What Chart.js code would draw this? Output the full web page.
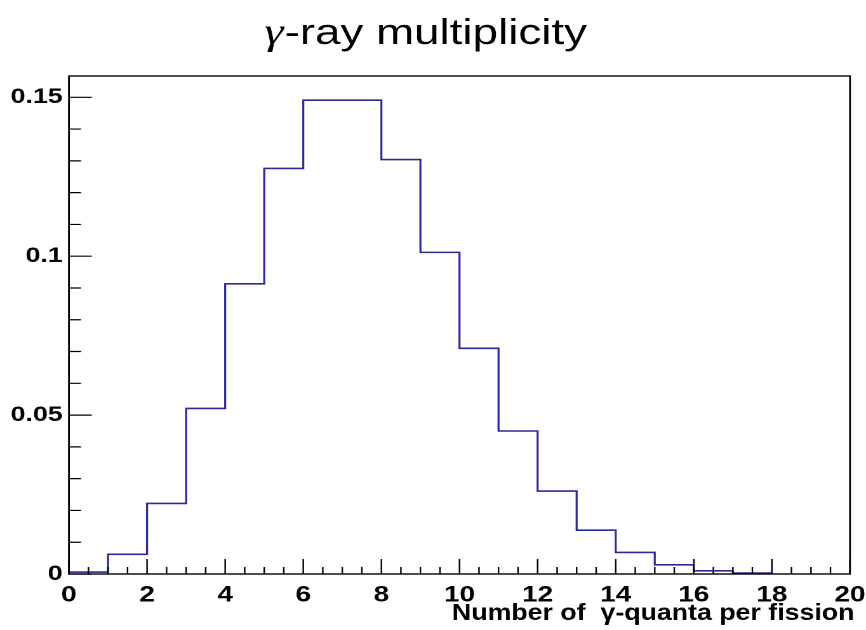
<!DOCTYPE html>
<html>
<head>
<meta charset="utf-8">
<script src="https://cdn.jsdelivr.net/npm/chart.js@4.4.1/dist/chart.umd.min.js"></script>
<style>
  html, body { margin: 0; padding: 0; background: #fff; overflow: hidden; }
  /* the plot is drawn narrow and widened afterwards, giving the stretched look of the printed figure */
  #multiplicity { display: block; transform: scaleX(1.2698); transform-origin: 0 0; }
</style>
</head>
<body>
<canvas id="multiplicity" width="682" height="630"></canvas>
<script>
// lower edge of each 1-wide bin (number of gamma quanta)
const binStarts = [0, 1, 2, 3, 4, 5, 6, 7, 8, 9, 10, 11, 12, 13, 14, 15, 16, 17];
// normalised probability per bin
const probability = [0.0006, 0.0062, 0.0222, 0.0521, 0.0913, 0.1276, 0.1491, 0.1491, 0.1304,
    0.1012, 0.0710, 0.0450, 0.0261, 0.0138, 0.0068, 0.0029, 0.0010, 0.0003];
const binWidth = 1;

const xTickLabels = [0, 2, 4, 6, 8, 10, 12, 14, 16, 18, 20];
const yTickLabels = [0, 0.05, 0.1, 0.15];
const xRange = [0, 20];
const yRange = [0, 0.1567];

const chartTitle = ['γ', '-ray multiplicity'];
const xTitle = 'Number of  γ-quanta per fission';

// histogram outline: one point per bin edge, last bin closed at its upper edge
const histPoints = binStarts.map((x, i) => ({ x: x, y: probability[i] }));
histPoints.push({ x: binStarts[binStarts.length - 1] + binWidth, y: probability[probability.length - 1] });

const sans = "'Liberation Sans', Arial, sans-serif";

// frame + inward tick marks (ROOT style), the plot title and the x-axis title
const frameAndTitle = {
    id: 'frameAndTitle',
    afterDraw(chart) {
        const { ctx, chartArea: a, scales } = chart;
        const x = scales.x, y = scales.y;
        ctx.save();
        ctx.strokeStyle = '#000';
        ctx.lineWidth = 1.4;
        ctx.strokeRect(a.left, a.top, a.right - a.left, a.bottom - a.top);

        ctx.lineWidth = 1.2;
        ctx.beginPath();
        for (let v = xRange[0]; v <= xRange[1] + 1e-9; v += 0.5) {
            const px = x.getPixelForValue(v);
            const len = Math.abs(v % 2) < 1e-9 ? 15 : 7;
            ctx.moveTo(px, a.bottom);
            ctx.lineTo(px, a.bottom - len);
        }
        for (let i = 0; i * 0.01 <= yRange[1]; i++) {
            const py = y.getPixelForValue(i * 0.01);
            const len = i % 5 === 0 ? 18 : 9.5;
            ctx.moveTo(a.left, py);
            ctx.lineTo(a.left + len, py);
        }
        ctx.stroke();

        // title: italic gamma followed by upright text
        const gFont = "italic 38px 'Liberation Serif', serif";
        const rFont = '36px ' + sans;
        ctx.font = gFont;
        const gw = ctx.measureText(chartTitle[0]).width;
        ctx.font = rFont;
        const rw = ctx.measureText(chartTitle[1]).width;
        const startX = 334.7 - (gw + rw) / 2;
        ctx.fillStyle = '#000';
        ctx.textBaseline = 'alphabetic';
        ctx.textAlign = 'left';
        ctx.font = gFont;
        ctx.fillText(chartTitle[0], startX, 44);
        ctx.font = rFont;
        ctx.fillText(chartTitle[1], startX + gw + 1, 44);

        // x-axis title, right-aligned just past the frame
        ctx.font = 'bold 23px ' + sans;
        ctx.textAlign = 'right';
        ctx.fillText(xTitle, a.right + 3.5, 620, 317);
        ctx.restore();
    }
};

new Chart(document.getElementById('multiplicity').getContext('2d'), {
    type: 'line',
    data: {
        datasets: [{
            label: 'gamma multiplicity',
            data: histPoints,
            stepped: 'before',
            borderColor: '#2a2a9c',
            borderWidth: 1.6,
            pointRadius: 0,
            fill: false
        }]
    },
    options: {
        responsive: false,
        devicePixelRatio: 2,
        animation: false,
        layout: { padding: { top: 76, right: 12.6, bottom: 0, left: 0 } },
        plugins: {
            legend: { display: false },
            tooltip: { enabled: false }
        },
        scales: {
            x: {
                type: 'linear',
                min: xRange[0],
                max: xRange[1],
                grid: { display: false, drawTicks: false },
                border: { display: false },
                afterBuildTicks: scale => { scale.ticks = xTickLabels.map(v => ({ value: v })); },
                afterFit: scale => {
                    scale.height = 56;
                    scale.paddingLeft = 0;
                    scale.paddingRight = 0;
                },
                ticks: {
                    padding: 8,
                    maxRotation: 0,
                    color: '#000',
                    font: { family: sans, size: 22, weight: 'bold' },
                    callback: v => String(v)
                }
            },
            y: {
                min: yRange[0],
                max: yRange[1],
                grid: { display: false, drawTicks: false },
                border: { display: false },
                afterBuildTicks: scale => { scale.ticks = yTickLabels.map(v => ({ value: v })); },
                afterFit: scale => {
                    scale.width = 54.3;
                    scale.paddingTop = 0;
                    scale.paddingBottom = 0;
                },
                ticks: {
                    padding: 5,
                    color: '#000',
                    font: { family: sans, size: 21, weight: 'bold' },
                    callback: v => String(v)
                }
            }
        }
    },
    plugins: [frameAndTitle]
});
</script>
</body>
</html>
